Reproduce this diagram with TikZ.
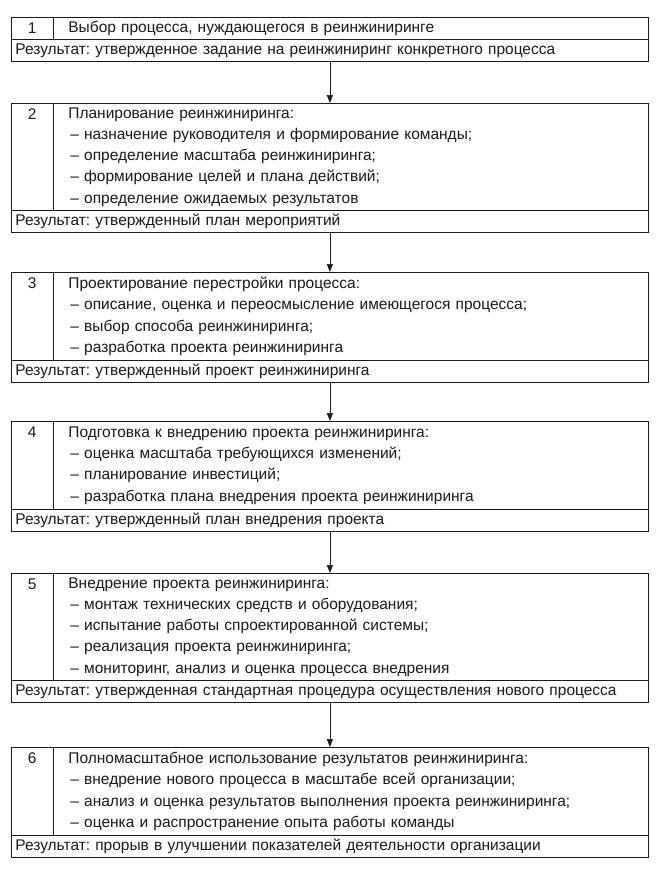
\documentclass[tikz,border=0pt]{standalone}
\usepackage{fontspec}
\setmainfont{Liberation Sans}
\usepackage{tikz}
\usetikzlibrary{
    positioning,
    calc,
    arrows.meta
}
\definecolor{Tinta}{HTML}{1A1A1A}
\frenchspacing

\newcommand{\punkt}{\hspace*{2pt}–\ }

\tikzset{
    numcell/.style={
        anchor=north west,
        minimum width=42pt,
        minimum height=22pt,
        inner sep=0pt
    },
    bodycell/.style={
        draw=Tinta,
        line width=0.8pt,
        anchor=north west,
        text width=565pt,
        inner xsep=15pt,
        inner ysep=0pt,
        align=left
    },
    rescell/.style={
        draw=Tinta,
        line width=0.8pt,
        anchor=north west,
        text width=629pt,
        inner xsep=4pt,
        inner ysep=0pt,
        minimum height=22pt,
        align=left
    },
    flow/.style={
        draw=Tinta,
        line width=0.7pt,
        -{Triangle[length=8pt,width=6pt]}
    }
}

\begin{document}
\begin{tikzpicture}[
    x=1pt, y=-1pt,
    font=\fontsize{15.5}{21.3}\selectfont\frenchspacing,
    text=Tinta
]
    \useasboundingbox[fill=white] (0,0) rectangle (661,871);

    % этап 1
    \node[numcell] (n1) at (11,17) {1};
    \node[bodycell, minimum height=22pt] (b1) at (53,17) {Выбор процесса, нуждающегося в реинжиниринге};
    \node[rescell] (r1) at (11,39) {Результат: утвержденное задание на реинжиниринг конкретного процесса};
    \draw[Tinta, line width=0.8pt] (n1.north west) rectangle (b1.south west);

    % этап 2
    \node[numcell] (n2) at (11,103) {2};
    \node[bodycell, minimum height=107pt] (b2) at (53,103) {
        Планирование реинжиниринга:\\
        \punkt назначение руководителя и формирование команды;\\
        \punkt определение масштаба реинжиниринга;\\
        \punkt формирование целей и плана действий;\\
        \punkt определение ожидаемых результатов
    };
    \node[rescell] (r2) at (11,210) {Результат: утвержденный план мероприятий};
    \draw[Tinta, line width=0.8pt] (n2.north west) rectangle (b2.south west);

    % этап 3
    \node[numcell] (n3) at (11,272) {3};
    \node[bodycell, minimum height=88pt] (b3) at (53,272) {
        Проектирование перестройки процесса:\\
        \punkt описание, оценка и переосмысление имеющегося процесса;\\
        \punkt выбор способа реинжиниринга;\\
        \punkt разработка проекта реинжиниринга
    };
    \node[rescell] (r3) at (11,360) {Результат: утвержденный проект реинжиниринга};
    \draw[Tinta, line width=0.8pt] (n3.north west) rectangle (b3.south west);

    % этап 4
    \node[numcell] (n4) at (11,421) {4};
    \node[bodycell, minimum height=88pt] (b4) at (53,421) {
        Подготовка к внедрению проекта реинжиниринга:\\
        \punkt оценка масштаба требующихся изменений;\\
        \punkt планирование инвестиций;\\
        \punkt разработка плана внедрения проекта реинжиниринга
    };
    \node[rescell] (r4) at (11,509) {Результат: утвержденный план внедрения проекта};
    \draw[Tinta, line width=0.8pt] (n4.north west) rectangle (b4.south west);

    % этап 5
    \node[numcell] (n5) at (11,573) {5};
    \node[bodycell, minimum height=107pt] (b5) at (53,573) {
        Внедрение проекта реинжиниринга:\\
        \punkt монтаж технических средств и оборудования;\\
        \punkt испытание работы спроектированной системы;\\
        \punkt реализация проекта реинжиниринга;\\
        \punkt мониторинг, анализ и оценка процесса внедрения
    };
    \node[rescell] (r5) at (11,680) {Результат: утвержденная стандартная процедура осуществления нового процесса};
    \draw[Tinta, line width=0.8pt] (n5.north west) rectangle (b5.south west);

    % этап 6
    \node[numcell] (n6) at (11,747) {6};
    \node[bodycell, minimum height=88pt] (b6) at (53,747) {
        Полномасштабное использование результатов реинжиниринга:\\
        \punkt внедрение нового процесса в масштабе всей организации;\\
        \punkt анализ и оценка результатов выполнения проекта реинжиниринга;\\
        \punkt оценка и распространение опыта работы команды
    };
    \node[rescell] (r6) at (11,835) {Результат: прорыв в улучшении показателей деятельности организации};
    \draw[Tinta, line width=0.8pt] (n6.north west) rectangle (b6.south west);

    % стрелки
    \draw[flow] (r1.south) -- (r1.south |- b2.north);
    \draw[flow] (r2.south) -- (r2.south |- b3.north);
    \draw[flow] (r3.south) -- (r3.south |- b4.north);
    \draw[flow] (r4.south) -- (r4.south |- b5.north);
    \draw[flow] (r5.south) -- (r5.south |- b6.north);
\end{tikzpicture}
\end{document}
